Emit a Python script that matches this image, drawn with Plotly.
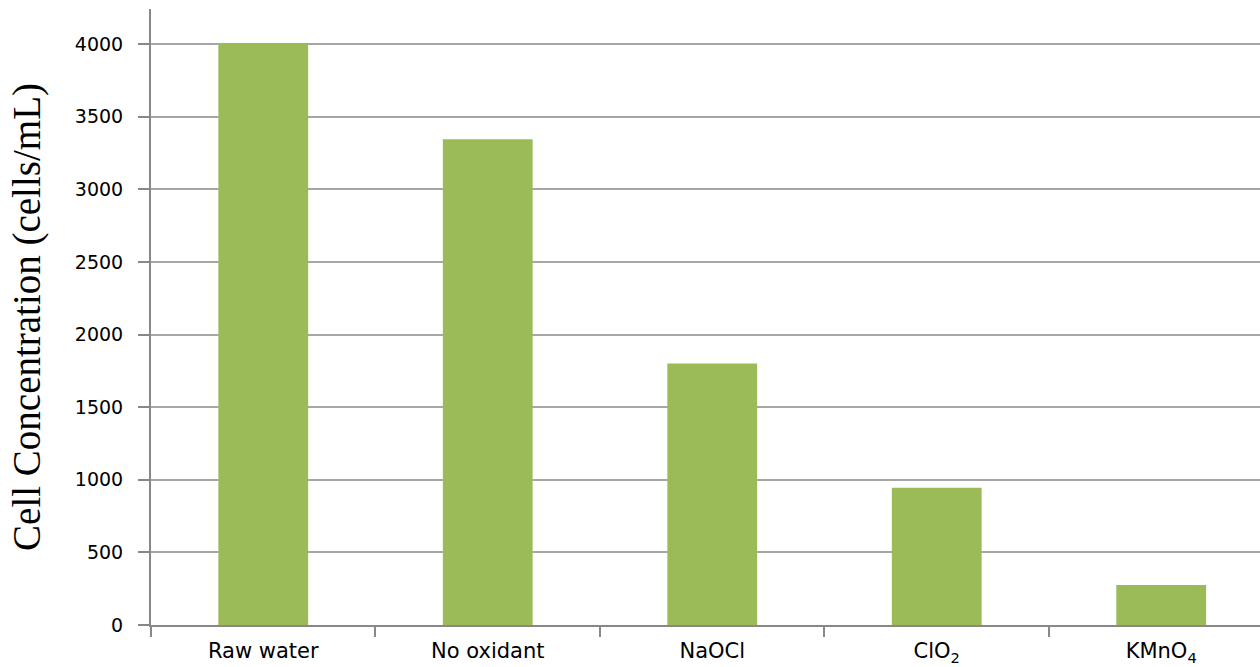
import plotly.graph_objects as go

categories = ["Raw water", "No oxidant", "NaOCl", "ClO<sub>2</sub>", "KMnO<sub>4</sub>"]
values = [4000, 3345, 1800, 945, 275]
y_ticks = [0, 500, 1000, 1500, 2000, 2500, 3000, 3500, 4000]

fig = go.Figure(go.Bar(
    x=categories, y=values,
    marker=dict(color="#9BBB59", line=dict(width=0)),
))

axis_color = "#888888"
grid_color = "#A6A6A6"

fig.update_layout(
    width=1260, height=667,
    margin=dict(l=151, r=0, t=9, b=42),
    paper_bgcolor="white", plot_bgcolor="white",
    bargap=0.6,
    showlegend=False,
    font=dict(family="DejaVu Sans", size=19, color="#000000"),
    xaxis=dict(
        type="category",
        range=[-0.5, 4.44],
        automargin=False,
        showline=True, linecolor=axis_color, linewidth=2,
        ticks="outside", ticklen=10, tickwidth=2, tickcolor=axis_color,
        tickson="boundaries",
        showgrid=False,
        ticklabelstandoff=6,
        tickfont=dict(family="DejaVu Sans", size=21, color="#000000"),
    ),
    yaxis=dict(
        range=[0, 4241],
        automargin=False,
        tickvals=y_ticks,
        ticktext=[str(v) for v in y_ticks],
        showline=True, linecolor=axis_color, linewidth=2,
        ticks="outside", ticklen=11, tickwidth=2, tickcolor=axis_color,
        showgrid=True, gridcolor=grid_color, gridwidth=2,
        zeroline=False,
        ticklabelstandoff=11,
        tickfont=dict(family="DejaVu Sans", size=19, color="#000000"),
        title=dict(
            text="Cell Concentration (cells/mL)",
            font=dict(family="Liberation Serif", size=39, color="#000000"),
            standoff=22,
        ),
    ),
)

fig.write_html("out.html")
